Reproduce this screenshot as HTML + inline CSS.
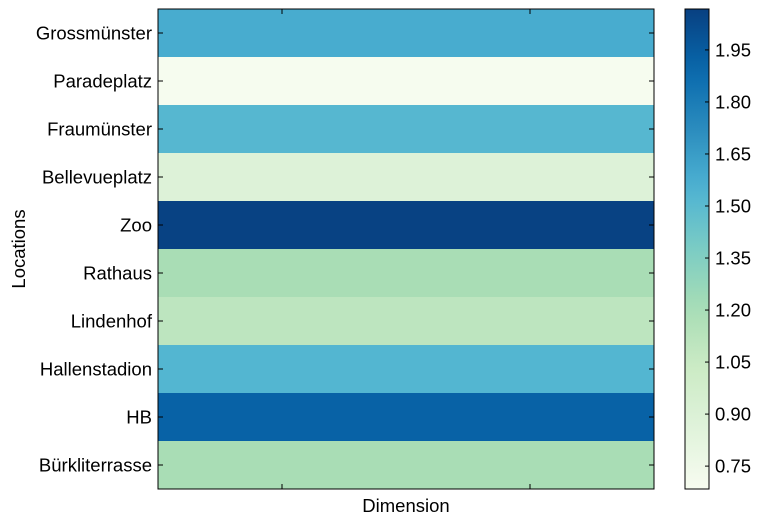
<!DOCTYPE html>
<html><head><meta charset="utf-8"><style>
body{margin:0;background:#fff;font-family:"Liberation Sans",sans-serif}
svg text{font-family:"Liberation Sans","DejaVu Sans",sans-serif;font-size:18.5px;fill:#000}
</style></head><body>
<svg id="chart" width="761" height="524" xmlns="http://www.w3.org/2000/svg"></svg>
<script>
const locations=["Grossmünster","Paradeplatz","Fraumünster","Bellevueplatz","Zoo","Rathaus","Lindenhof","Hallenstadion","HB","Bürkliterrasse"];
const values=[1.58,0.69,1.52,0.88,2.06,1.2,1.1,1.53,1.92,1.2];
const cbTicks=[0.75,0.90,1.05,1.20,1.35,1.50,1.65,1.80,1.95];
const vmin=0.684, vmax=2.068;
const GnBu=["#f7fcf0","#e0f3db","#ccebc5","#a8ddb5","#7bccc4","#4eb3d3","#2b8cbe","#0868ac","#084081"];
function hex(c){return [1,3,5].map(i=>parseInt(c.substr(i,2),16));}
function cmap(v){let t=Math.max(0,Math.min(1,(v-vmin)/(vmax-vmin)))*(GnBu.length-1);let i=Math.min(Math.floor(t),GnBu.length-2),f=t-i;const a=hex(GnBu[i]),b=hex(GnBu[i+1]);return "rgb("+a.map((x,k)=>Math.round(x+(b[k]-x)*f)).join(",")+")";}
const svg=document.getElementById('chart');const NS="http://www.w3.org/2000/svg";
function el(t,a,p){const e=document.createElementNS(NS,t);for(const k in a)e.setAttribute(k,a[k]);(p||svg).appendChild(e);return e;}
const L=158,R=654,T=9,B=489,rh=(B-T)/locations.length;
function yRow(i){return T+i*rh;}
locations.forEach((n,i)=>{
 const r=el('rect',{x:L,y:yRow(i),width:R-L,height:rh+0.5,fill:cmap(values[i])});
 
 
 const t=el('text',{x:L-6,y:yRow(i)+rh/2+6.5,'text-anchor':'end'});t.textContent=n;
 
 
 const cy=yRow(i)+rh/2;
 el('line',{x1:L,x2:L+5,y1:cy,y2:cy,stroke:'#000'});
 el('line',{x1:R-5,x2:R,y1:cy,y2:cy,stroke:'#000'});
});
[282,530].forEach(x=>{el('line',{x1:x,x2:x,y1:T,y2:T+5,stroke:'#000'});el('line',{x1:x,x2:x,y1:B-5,y2:B,stroke:'#000'});});
const fr=el('rect',{x:L,y:T,width:R-L,height:B-T,fill:'none',stroke:'#000','stroke-width':1});

const xt=el('text',{x:(L+R)/2,y:512,'text-anchor':'middle'});xt.textContent='Dimension';

const yt=el('text',{x:25,y:(T+B)/2,'text-anchor':'middle',transform:'rotate(-90 25 '+((T+B)/2)+')'});yt.textContent='Locations';

const CL=685,CR=709;
const defs=el('defs',{});const g=el('linearGradient',{id:'cb',x1:0,y1:1,x2:0,y2:0},defs);
for(let k=0;k<=20;k++){const v=vmin+(vmax-vmin)*k/20;el('stop',{offset:k/20,'stop-color':cmap(v)},g);}
const cb=el('rect',{x:CL,y:T,width:CR-CL,height:B-T,fill:'url(#cb)',stroke:'#000'});

function cy(v){return B-(v-vmin)/(vmax-vmin)*(B-T);}
cbTicks.forEach(v=>{const y=cy(v);el('line',{x1:CR-4,x2:CR,y1:y,y2:y,stroke:'#000'});
 const t=el('text',{x:CR+6,y:y+6.5});t.textContent=v.toFixed(2);
 
 });
</script>
</body></html>
